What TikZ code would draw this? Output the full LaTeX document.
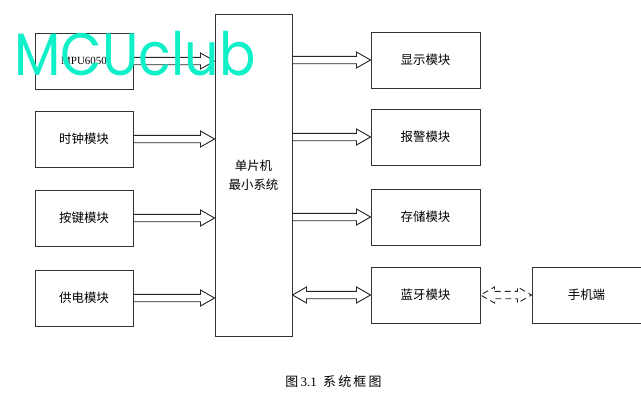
\documentclass[tikz,border=0pt]{standalone}
\usepackage{fontspec}
\setmainfont{Liberation Serif}
\newfontfamily\cjk{Noto Sans CJK SC}
\newfontfamily\logofont{Poppins}
\usetikzlibrary{calc,positioning}

\definecolor{logocyan}{RGB}{16,240,200}

\tikzset{
  module/.style={draw=black!80, line width=1bp, minimum width=98bp, minimum height=56bp,
    inner sep=0pt, font=\cjk\fontsize{12.5}{15}\selectfont},
  wide/.style={minimum width=109bp},
  core/.style={draw=black!80, line width=1bp, minimum width=77bp, minimum height=322bp,
    inner sep=0pt, align=center, font=\cjk\fontsize{12.5}{19}\selectfont},
  fat/.style={draw=black!85, line width=0.9bp, to path={
    ($(\tikztostart)+(0,3.7bp)$) -- ($(\tikztotarget)+(-14bp,3.7bp)$)
    -- ($(\tikztotarget)+(-14bp,8bp)$) -- (\tikztotarget)
    -- ($(\tikztotarget)+(-14bp,-8bp)$) -- ($(\tikztotarget)+(-14bp,-3.7bp)$)
    -- ($(\tikztostart)+(0,-3.7bp)$)}},
  fat both/.style={draw=black!85, line width=0.9bp, to path={
    ($(\tikztostart)+(14bp,3.7bp)$) -- ($(\tikztotarget)+(-14bp,3.7bp)$)
    -- ($(\tikztotarget)+(-14bp,8bp)$) -- (\tikztotarget)
    -- ($(\tikztotarget)+(-14bp,-8bp)$) -- ($(\tikztotarget)+(-14bp,-3.7bp)$)
    -- ($(\tikztostart)+(14bp,-3.7bp)$) -- ($(\tikztostart)+(14bp,-8bp)$)
    -- (\tikztostart) -- ($(\tikztostart)+(14bp,8bp)$) -- cycle}},
  logo/.style={text=logocyan, inner sep=0pt, xscale=0.9, font=\logofont\fontsize{60}{60}\selectfont}
}

\begin{document}
\begin{tikzpicture}
  \useasboundingbox[fill=white] (0,0) rectangle (641bp,-402bp);
  \node[module, font=\fontsize{11}{13}\selectfont] (mpu) at (84bp,-61bp) {MPU6050};
  \node[module] (clock) [below=21bp of mpu] {时钟模块};
  \node[module] (key) [below=22bp of clock] {按键模块};
  \node[module] (power) [below=23bp of key] {供电模块};
  \node[core] (mcu) at (253.5bp,-175bp) {单片机\\最小系统};
  \node[module, wide] (lcd) at (425.5bp,-60bp) {显示模块};
  \node[module, wide] (alarm) [below=20bp of lcd] {报警模块};
  \node[module, wide] (store) [below=23bp of alarm] {存储模块};
  \node[module, wide] (ble) [below=21bp of store] {蓝牙模块};
  \node[module, wide] (phone) [right=51bp of ble] {手机端};
  \path
  (mpu.east) edge[fat] (mpu.east -| mcu.west)
  (clock.east) edge[fat] (clock.east -| mcu.west)
  (key.east) edge[fat] (key.east -| mcu.west)
  (power.east) edge[fat] (power.east -| mcu.west)
  (lcd.west -| mcu.east) edge[fat] (lcd.west)
  (alarm.west -| mcu.east) edge[fat] (alarm.west)
  (store.west -| mcu.east) edge[fat] (store.west)
  (ble.west -| mcu.east) edge[fat both] (ble.west)
  (ble.east) edge[fat both, dash pattern=on 6bp off 4bp] (phone.west);
  \node[font=\fontsize{13}{15}\selectfont] (caption) at (333.5bp,-382bp)
    {{\cjk 图}\,3.1\ \ {\cjk 系\,统\,框\,图}};
  \node[logo] (watermark) at (135bp,-54bp) {MCUclub};
\end{tikzpicture}
\end{document}
